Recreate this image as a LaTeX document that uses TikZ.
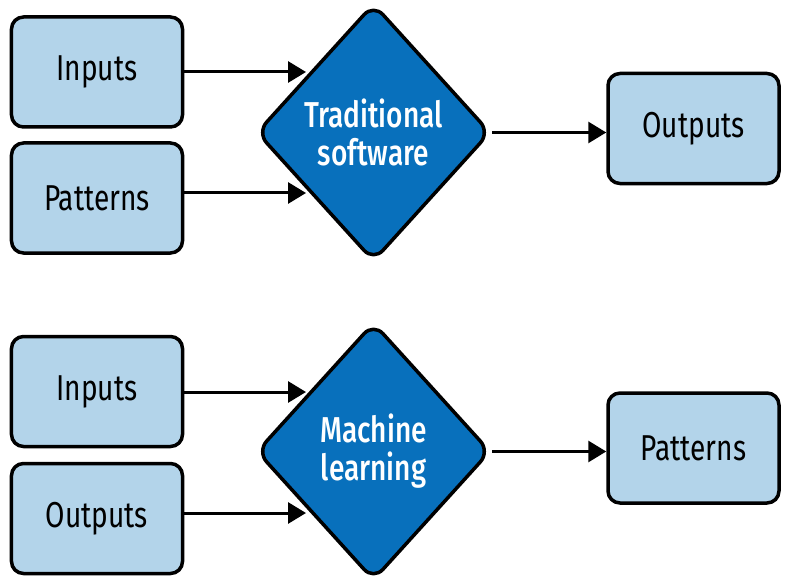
\documentclass[tikz,border=0pt]{standalone}
\usepackage{fontspec}
\setmainfont{Fira Sans}[FakeStretch=0.78]
\newfontfamily\diafont{Fira Sans Medium}[FakeStretch=0.78]
\usetikzlibrary{shapes.geometric,arrows.meta}
\definecolor{boxblue}{HTML}{B3D4EA}
\definecolor{diablue}{HTML}{0870BC}
\tikzset{
  box/.style={draw=black, line width=3.5bp, fill=boxblue, rounded corners=12bp,
    minimum width=171bp, minimum height=110bp, inner sep=0pt,
    font=\fontsize{36bp}{38bp}\selectfont, text=black},
  dia/.style={draw=black, line width=3.5bp, fill=diablue, diamond, rounded corners=14bp,
    minimum width=234bp, minimum height=258bp, inner sep=0pt, aspect=0.9,
    align=center, text=white, font=\diafont\fontsize{36bp}{38bp}\selectfont},
  arr/.style={line width=3bp, -{Triangle[length=18bp,width=21bp]}}
}
\begin{document}
\begin{tikzpicture}[x=1bp,y=-1bp]
\useasboundingbox (0,0) rectangle (792,588);
% top
\node[box] (in1) at (97,72) {Inputs};
\node[box] (pat1) at (97,198) {Patterns};
\node[dia] (d1) at (373.5,132.5) {Traditional\\software};
\node[box] (out1) at (693.5,128.5) {Outputs};
\coordinate (t1) at (306,72);
\coordinate (t2) at (306,193);
\draw[arr] (in1.east |- t1) -- (t1);
\draw[arr] (pat1.east |- t2) -- (t2);
\draw[arr] (d1.east) -- (out1.west |- d1.east);
% bottom
\node[box] (in2) at (97,391.5) {Inputs};
\node[box] (out2) at (97,518.5) {Outputs};
\node[dia] (d2) at (373.5,451.5) {Machine\\learning};
\node[box] (pat2) at (693.5,448) {Patterns};
\coordinate (t3) at (306,392);
\coordinate (t4) at (306,513);
\draw[arr] (in2.east |- t3) -- (t3);
\draw[arr] (out2.east |- t4) -- (t4);
\draw[arr] (d2.east) -- (pat2.west |- d2.east);
\end{tikzpicture}
\end{document}
